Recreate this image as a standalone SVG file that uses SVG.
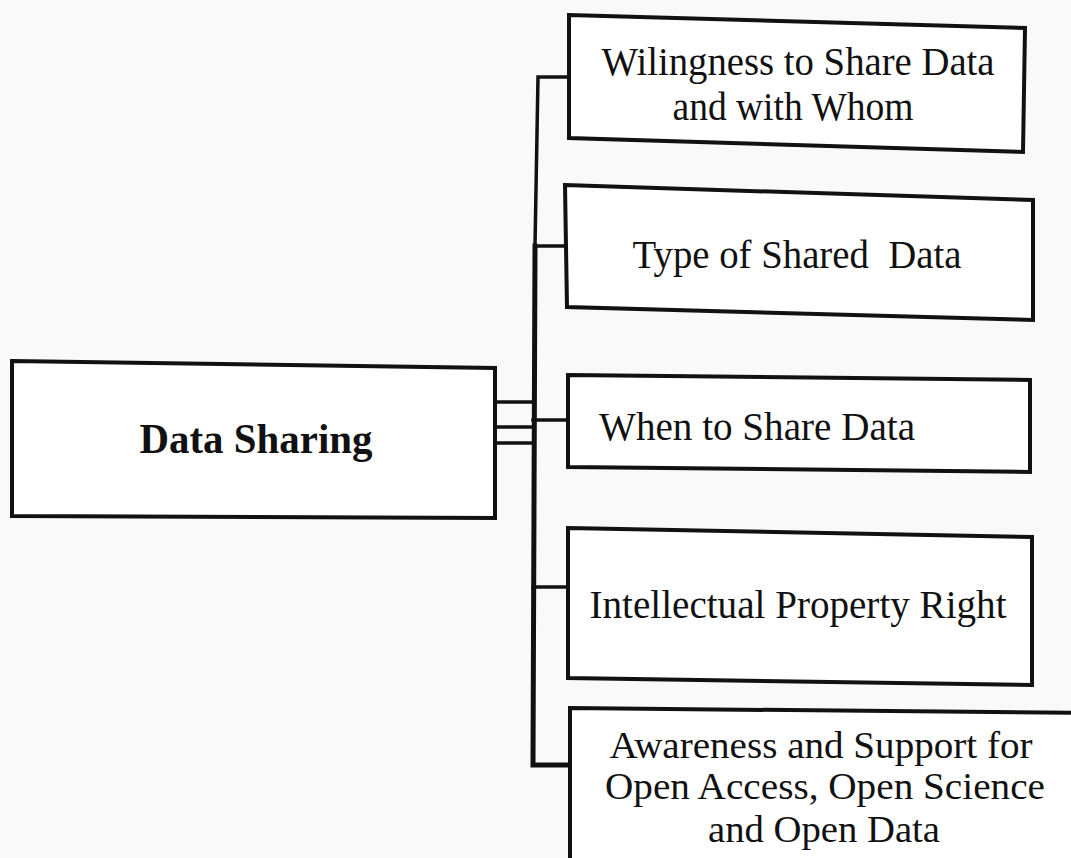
<svg xmlns="http://www.w3.org/2000/svg" width="1071" height="858" viewBox="0 0 1071 858">
<style>
.box{fill:#ffffff;stroke:#111;stroke-width:4;stroke-linejoin:miter}
.t{font-family:"Liberation Serif","Times New Roman",serif;font-size:40px;fill:#111;text-anchor:middle}
.s{font-size:37px}
.b{font-weight:bold;font-size:42px}
.ln{fill:none;stroke:#111;stroke-width:3.5;stroke-linecap:square}
.thick{stroke-width:5}
</style>
<rect x="0" y="0" width="1071" height="858" fill="#f9f9f9"/>
<g id="connectors">
<polyline class="ln" points="569,77 538,77 535,246"/>
<polyline class="ln thick" points="535,246 533,765 569,765"/>
<line class="ln" x1="535" y1="246" x2="565" y2="246"/>
<line class="ln" x1="533" y1="420" x2="568" y2="420"/>
<line class="ln" x1="533" y1="587" x2="569" y2="587"/>
<line class="ln" x1="495" y1="402" x2="533" y2="402"/>
<line class="ln" x1="495" y1="427" x2="533" y2="427"/>
<line class="ln" x1="495" y1="443" x2="533" y2="443"/>
</g>
<g id="data-sharing">
<polygon class="box" points="12,361 495,368 495,518 12,516"/>
<text class="t b" x="256" y="453" textLength="233" lengthAdjust="spacingAndGlyphs">Data Sharing</text>
</g>
<g id="willingness">
<polygon class="box" points="569,15 1025,28 1023,152 569,138"/>
<text class="t" x="798" y="75" textLength="393" lengthAdjust="spacingAndGlyphs">Wilingness to Share Data</text>
<text class="t" x="793" y="120" textLength="241" lengthAdjust="spacingAndGlyphs">and with Whom</text>
</g>
<g id="type-of-data">
<polygon class="box" points="565,185 1033,200 1033,320 567,307"/>
<text class="t" x="797" y="268" textLength="329" lengthAdjust="spacingAndGlyphs" xml:space="preserve">Type of Shared  Data</text>
</g>
<g id="when-to-share">
<polygon class="box" points="568,375 1030,380 1030,472 568,467"/>
<text class="t" x="757" y="440" textLength="316" lengthAdjust="spacingAndGlyphs">When to Share Data</text>
</g>
<g id="ip-right">
<polygon class="box" points="568,528 1032,537 1032,685 568,678"/>
<text class="t" x="798" y="618" textLength="417" lengthAdjust="spacingAndGlyphs">Intellectual Property Right</text>
</g>
<g id="awareness">
<polygon class="box" points="570,708 1085,713 1085,875 570,875"/>
<text class="t s" x="821" y="758" textLength="423" lengthAdjust="spacingAndGlyphs">Awareness and Support for</text>
<text class="t s" x="825" y="799" textLength="440" lengthAdjust="spacingAndGlyphs">Open Access, Open Science</text>
<text class="t s" x="824" y="842" textLength="232" lengthAdjust="spacingAndGlyphs">and Open Data</text>
</g>
</svg>
